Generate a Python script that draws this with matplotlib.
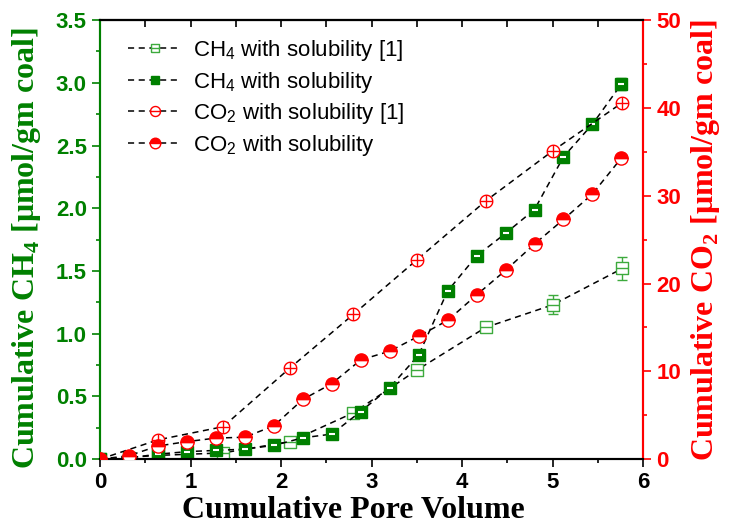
import numpy as np
import matplotlib.pyplot as plt
from matplotlib.path import Path

# CH4 with solubility [1] (open squares)
x_ch4_ref = [0, 0.64, 1.36, 2.10, 2.80, 3.50, 4.26, 5.00, 5.77]
y_ch4_ref = [0, 0.03, 0.05, 0.14, 0.37, 0.71, 1.05, 1.23, 1.52]
e_ch4_ref = [0, 0, 0, 0, 0.02, 0.02, 0.035, 0.075, 0.09]

# CH4 with solubility (filled squares)
x_ch4 = [0, 0.32, 0.64, 0.96, 1.28, 1.60, 1.92, 2.24, 2.56, 2.88, 3.20, 3.52,
         3.84, 4.16, 4.48, 4.80, 5.12, 5.44, 5.76]
y_ch4 = [0, 0.01, 0.04, 0.06, 0.07, 0.08, 0.11, 0.17, 0.20, 0.38, 0.57, 0.83,
         1.34, 1.62, 1.80, 1.99, 2.41, 2.67, 2.99]
e_ch4 = [0]*16 + [0.02, 0.03, 0.05]

# CO2 with solubility [1] (open circles), right axis
x_co2_ref = [0, 0.64, 1.36, 2.10, 2.80, 3.50, 4.26, 5.00, 5.77]
y_co2_ref = [0, 2.2, 3.7, 10.4, 16.5, 22.7, 29.4, 35.1, 40.6]

# CO2 with solubility (half filled circles), right axis
x_co2 = x_ch4
y_co2 = [0, 0.4, 1.5, 2.0, 2.4, 2.5, 3.8, 6.8, 8.6, 11.3, 12.3, 14.0,
         15.8, 18.7, 21.5, 24.5, 27.3, 30.2, 34.3]

green = '#008000'
lgreen = '#3daa3d'
red = '#ff0000'

# square / circle with a horizontal middle line
sq = Path([(-1, -1), (1, -1), (1, 1), (-1, 1), (-1, -1), (-1, 0), (1, 0)],
          [1, 2, 2, 2, 2, 1, 2])
t = np.linspace(0, 2*np.pi, 60)
circ_v = list(zip(np.cos(t), np.sin(t))) + [(-1, 0), (1, 0)]
circ_c = [1] + [2]*59 + [1, 2]
circ = Path(circ_v, circ_c)

plt.rcParams['font.family'] = ['Liberation Sans', 'DejaVu Sans']
plt.rcParams['mathtext.fontset'] = 'custom'
plt.rcParams['mathtext.rm'] = 'Liberation Sans'
plt.rcParams['mathtext.bf'] = 'Liberation Serif:bold'

fig = plt.figure(figsize=(7.3, 5.29), dpi=100)
ax = fig.add_axes([0.137, 0.132, 0.744, 0.830])
ax2 = ax.twinx()

ls = dict(color='k', ls=(0, (4, 3)), lw=1.1)

# error bars (no legend entry)
ax.errorbar(x_ch4_ref, y_ch4_ref, yerr=e_ch4_ref, ls='none', ecolor=lgreen,
            elinewidth=1, capsize=3.5, zorder=2)
ax.errorbar(x_ch4, y_ch4, yerr=e_ch4, ls='none', ecolor=green,
            elinewidth=1, capsize=3.5, zorder=2)

ax.plot(x_ch4_ref, y_ch4_ref, marker=sq, ms=8, mfc='white', mec=lgreen,
        mew=1.0, label='CH$_4$ with solubility [1]', zorder=3, **ls)
ax.plot(x_ch4, y_ch4, marker='s', ms=8, mfc=green, mec=green,
        label='CH$_4$ with solubility', zorder=3, **ls)
ax.plot(x_ch4, y_ch4, ls='none', marker='_', ms=4, mec='white', mew=1.5, zorder=4)

ax2.plot(x_co2_ref, y_co2_ref, marker=circ, ms=9, mfc='white', mec=red, mew=1.0,
         label='CO$_2$ with solubility [1]', zorder=3, **ls)
ax2.plot(x_co2_ref[1:], y_co2_ref[1:], ls='none', marker='|', ms=9, mec=red,
         mew=1.0, zorder=4)
ax2.plot(x_co2, y_co2, marker='o', ms=9.5, fillstyle='top', mfc=red,
         mfcalt='white', mec=red, mew=1.0, label='CO$_2$ with solubility',
         zorder=3, **ls)
ax2.plot(x_co2, y_co2, ls='none', marker='_', ms=9.5, mec=red, mew=1.0, zorder=4)

ax.set_xlim(0, 6)
ax.set_ylim(0, 3.5)
ax2.set_ylim(0, 50)
ax.set_xticks(np.arange(0, 7, 1))
ax.set_xticks(np.arange(0.5, 6, 1), minor=True)
ax.set_yticks(np.arange(0, 3.6, 0.5))
ax.set_yticks(np.arange(0.25, 3.5, 0.5), minor=True)
ax.set_yticklabels(['%.1f' % v for v in np.arange(0, 3.6, 0.5)])
ax2.set_yticks(np.arange(0, 51, 10))
ax2.set_yticks(np.arange(5, 50, 10), minor=True)

for lab in ax.get_xticklabels():
    lab.set_fontsize(16); lab.set_fontweight('bold')
for lab in ax.get_yticklabels():
    lab.set_fontsize(16); lab.set_fontweight('bold'); lab.set_color(green)
for lab in ax2.get_yticklabels():
    lab.set_fontsize(16); lab.set_fontweight('bold'); lab.set_color(red)

ax.tick_params(axis='x', which='major', direction='out', length=6, width=1.2)
ax.tick_params(axis='x', which='minor', direction='out', length=3, width=1.2)
ax.tick_params(axis='y', which='major', direction='out', length=6, width=1.2, color=green)
ax.tick_params(axis='y', which='minor', direction='out', length=3, width=1.2, color=green)
ax2.tick_params(axis='y', which='major', direction='out', length=6, width=1.2, color=red)
ax2.tick_params(axis='y', which='minor', direction='out', length=3, width=1.2, color=red)

top = ax.secondary_xaxis('top')
top.set_xticks(np.arange(0, 6.1, 0.5))
top.tick_params(direction='in', length=5, width=1.2, labeltop=False)

for a in (ax, ax2):
    a.spines['left'].set_color(green)
    a.spines['right'].set_color(red)
    for s in a.spines.values():
        s.set_linewidth(1.5)
top.spines['top'].set_linewidth(1.5)

ax.set_xlabel('Cumulative Pore Volume', family='Liberation Serif',
              fontweight='bold', fontsize=23)
ax.xaxis.set_label_coords(0.466, -0.085)
ax.set_ylabel('Cumulative CH$_\\mathbf{4}$ [\u03bcmol/gm coal]', color=green,
              family=['Liberation Serif', 'DejaVu Serif'],
              fontweight='bold', fontsize=23)
ax.yaxis.set_label_coords(-0.105, 0.48)
ax2.set_ylabel('Cumulative CO$_\\mathbf{2}$ [\u03bcmol/gm coal]', color=red,
               labelpad=6, family=['Liberation Serif', 'DejaVu Serif'],
               fontweight='bold', fontsize=23)

h1, l1 = ax.get_legend_handles_labels()
h2, l2 = ax2.get_legend_handles_labels()
ax.legend(h1 + h2, l1 + l2, loc='upper left', bbox_to_anchor=(0.015, 1.005),
          frameon=False, fontsize=16, handlelength=2.4, labelspacing=0.3,
          handletextpad=0.5, markerscale=0.8)

fig.savefig('out.png', dpi=100)
